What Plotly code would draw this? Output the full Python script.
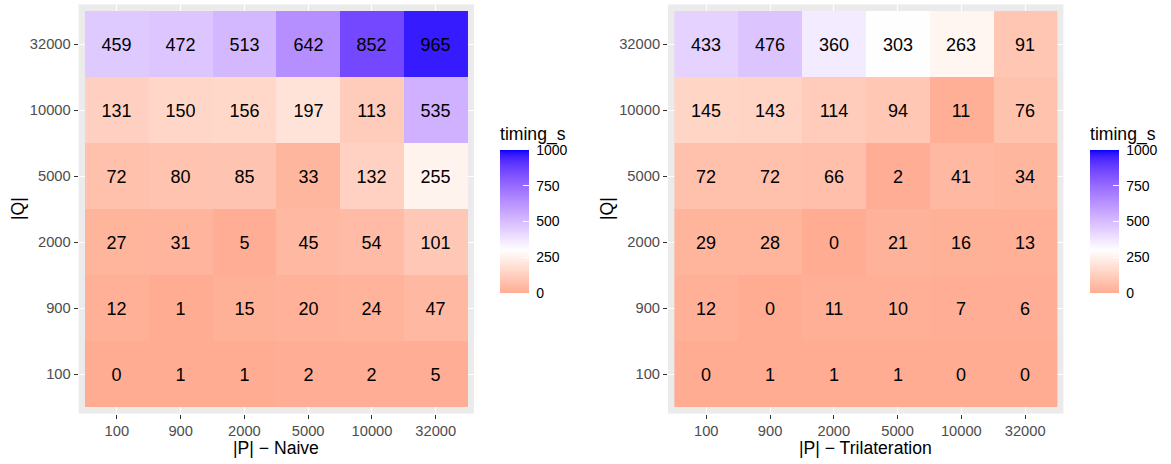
import plotly.graph_objects as go
import numpy as np

# ---------------- data ----------------
p_labels = ["100", "900", "2000", "5000", "10000", "32000"]
q_labels = ["100", "900", "2000", "5000", "10000", "32000"]

# rows follow q_labels (bottom -> top), columns follow p_labels
naive_q100 = [0, 1, 1, 2, 2, 5]
naive_q900 = [12, 1, 15, 20, 24, 47]
naive_q2000 = [27, 31, 5, 45, 54, 101]
naive_q5000 = [72, 80, 85, 33, 132, 255]
naive_q10000 = [131, 150, 156, 197, 113, 535]
naive_q32000 = [459, 472, 513, 642, 852, 965]

tri_q100 = [0, 1, 1, 1, 0, 0]
tri_q900 = [12, 0, 11, 10, 7, 6]
tri_q2000 = [29, 28, 0, 21, 16, 13]
tri_q5000 = [72, 72, 66, 2, 41, 34]
tri_q10000 = [145, 143, 114, 94, 11, 76]
tri_q32000 = [433, 476, 360, 303, 263, 91]

naive = [naive_q100, naive_q900, naive_q2000, naive_q5000, naive_q10000, naive_q32000]
tri = [tri_q100, tri_q900, tri_q2000, tri_q5000, tri_q10000, tri_q32000]

legend_ticks = [0, 250, 500, 750, 1000]

# ---------------- colour scale (ggplot gradient2-like, Lab interpolation) ----------------
VMIN, VMAX, VMID = 0, 1000, 300


def srgb_to_lab(rgb):
    c = np.array(rgb, dtype=float) / 255.0
    c = np.where(c <= 0.04045, c / 12.92, ((c + 0.055) / 1.055) ** 2.4)
    M = np.array([[0.4124564, 0.3575761, 0.1804375],
                  [0.2126729, 0.7151522, 0.0721750],
                  [0.0193339, 0.1191920, 0.9503041]])
    xyz = M @ c
    wp = np.array([0.95047, 1.0, 1.08883])
    t = xyz / wp
    f = np.where(t > (6 / 29) ** 3, np.cbrt(t), t / (3 * (6 / 29) ** 2) + 4 / 29)
    return np.array([116 * f[1] - 16, 500 * (f[0] - f[1]), 200 * (f[1] - f[2])])


def lab_to_srgb(lab):
    L, a, b = lab
    fy = (L + 16) / 116
    fx = fy + a / 500
    fz = fy - b / 200
    f = np.array([fx, fy, fz])
    t = np.where(f > 6 / 29, f ** 3, 3 * (6 / 29) ** 2 * (f - 4 / 29))
    xyz = t * np.array([0.95047, 1.0, 1.08883])
    Minv = np.array([[3.2404542, -1.5371385, -0.4985314],
                     [-0.9692660, 1.8760108, 0.0415560],
                     [0.0556434, -0.2040259, 1.0572252]])
    c = Minv @ xyz
    c = np.clip(c, 0, 1)
    c = np.where(c <= 0.0031308, 12.92 * c, 1.055 * c ** (1 / 2.4) - 0.055)
    c = np.clip(np.round(c * 255), 0, 255).astype(int)
    return "rgb(%d,%d,%d)" % tuple(c)


LOW = srgb_to_lab((255, 0, 0))
MID = srgb_to_lab((255, 255, 255))
HIGH = srgb_to_lab((0, 0, 255))
extent = max(abs(VMIN - VMID), abs(VMAX - VMID))


def colour_for(v):
    t = (v - VMID) / extent / 2 + 0.5
    if t <= 0.5:
        s = t / 0.5
        lab = LOW + (MID - LOW) * s
    else:
        s = (t - 0.5) / 0.5
        lab = MID + (HIGH - MID) * s
    return lab_to_srgb(lab)


nstops = 61
colorscale = []
for i in range(nstops):
    frac = i / (nstops - 1)
    v = VMIN + frac * (VMAX - VMIN)
    colorscale.append([frac, colour_for(v)])

# ---------------- figure ----------------
W, H = 1171, 464
FONT = "Liberation Sans, Arial, Helvetica, sans-serif"


def px_x(x):
    return x / W


def px_y(y):
    return 1 - y / H


fig = go.Figure()

for i, (zdata, xa, ya, ca) in enumerate([(naive, "x", "y", "coloraxis"),
                                         (tri, "x2", "y2", "coloraxis2")]):
    fig.add_trace(go.Heatmap(
        z=zdata, x=p_labels, y=q_labels, xaxis=xa, yaxis=ya, coloraxis=ca,
        texttemplate="%{z}", textfont=dict(size=18, color="black", family=FONT),
        hoverinfo="skip", xgap=0, ygap=0,
    ))

ydom = [px_y(413.6), px_y(4.4)]
x1dom = [px_x(78.6), px_x(474.0)]
x2dom = [px_x(668.0), px_x(1063.4)]

axis_common = dict(
    type="category", range=[-0.6, 5.6], showgrid=True, gridcolor="white", gridwidth=1.1,
    ticks="outside", ticklen=4, tickwidth=1.1, tickcolor="#333333",
    tickfont=dict(size=14.7, color="#4D4D4D", family=FONT), zeroline=False, showline=False,
    fixedrange=True,
)

fig.update_layout(
    width=W, height=H, margin=dict(l=0, r=0, t=0, b=0),
    paper_bgcolor="white", plot_bgcolor="#EBEBEB",
    font=dict(family=FONT),
    xaxis=dict(domain=x1dom, anchor="y", categoryorder="array", categoryarray=p_labels, **axis_common),
    yaxis=dict(domain=ydom, anchor="x", categoryorder="array", categoryarray=q_labels, **axis_common),
    xaxis2=dict(domain=x2dom, anchor="y2", categoryorder="array", categoryarray=p_labels, **axis_common),
    yaxis2=dict(domain=ydom, anchor="x2", categoryorder="array", categoryarray=q_labels, **axis_common),
)

cb_common = dict(
    thickness=29, thicknessmode="pixels", len=142 + 27, lenmode="pixels",
    xanchor="left", yanchor="bottom", y=px_y(293), xpad=0, ypad=0,
    outlinewidth=0, ticks="inside", ticklen=6, tickwidth=1, tickcolor="white",
    tickvals=legend_ticks, ticktext=["\u00a0" + str(t) for t in legend_ticks],
    tickfont=dict(size=14, color="black", family=FONT),
    title=dict(text="timing_s", side="top", font=dict(size=17.6, color="black", family=FONT)),
)

fig.update_layout(
    coloraxis=dict(colorscale=colorscale, cmin=VMIN, cmax=VMAX,
                   colorbar=dict(x=px_x(500), **cb_common)),
    coloraxis2=dict(colorscale=colorscale, cmin=VMIN, cmax=VMAX,
                    colorbar=dict(x=px_x(1090), **cb_common)),
)

# axis titles
title_font = dict(size=17.6, color="black", family=FONT)
fig.add_annotation(text="|P| − Naive", x=(x1dom[0] + x1dom[1]) / 2, y=px_y(448), xref="paper", yref="paper",
                   showarrow=False, font=title_font, xanchor="center", yanchor="middle")
fig.add_annotation(text="|P| − Trilateration", x=(x2dom[0] + x2dom[1]) / 2, y=px_y(448), xref="paper",
                   yref="paper", showarrow=False, font=title_font, xanchor="center", yanchor="middle")
fig.add_annotation(text="|Q|", x=px_x(18), y=(ydom[0] + ydom[1]) / 2, xref="paper", yref="paper",
                   showarrow=False, font=title_font, textangle=-90, xanchor="center", yanchor="middle")
fig.add_annotation(text="|Q|", x=px_x(607), y=(ydom[0] + ydom[1]) / 2, xref="paper", yref="paper",
                   showarrow=False, font=title_font, textangle=-90, xanchor="center", yanchor="middle")

fig.write_html("out.html", config={"displayModeBar": False},
               post_script="document.body.style.margin='0';document.body.style.padding='0';")
